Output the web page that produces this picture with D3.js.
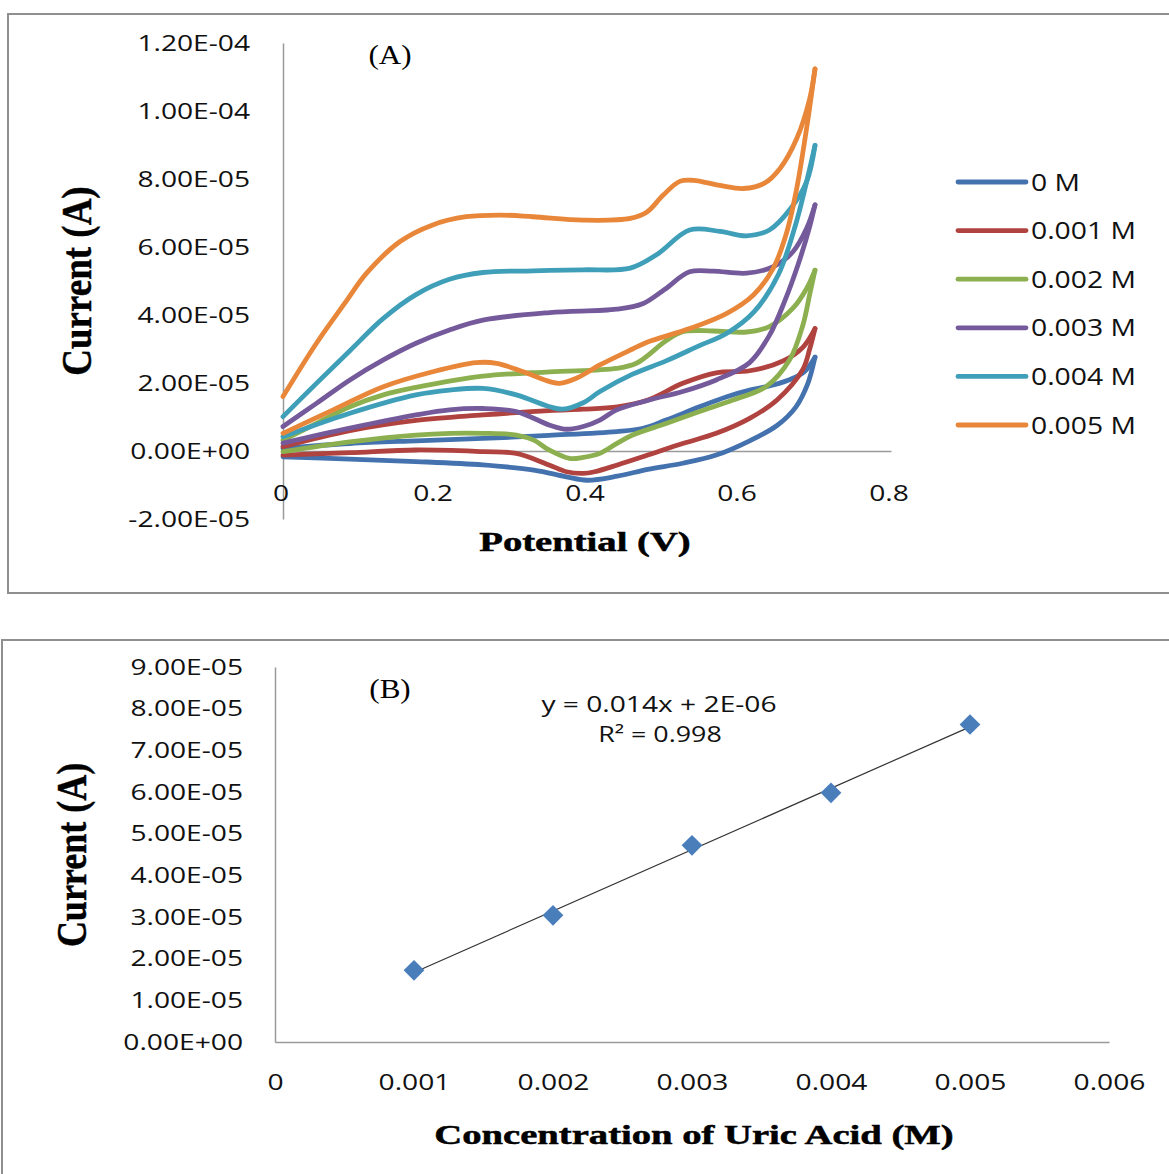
<!DOCTYPE html>
<html>
<head>
<meta charset="utf-8">
<script src="https://cdn.jsdelivr.net/npm/d3@7"></script>
<style>
  body { margin: 0; background: #fff; }
  svg { display: block; }
</style>
</head>
<body>
<div class="graph"></div>
<script>
// ---- panel A: cyclic voltammograms, [potential V, current µA], forward scan then reverse
const seriesNames = ["0 M", "0.001 M", "0.002 M", "0.003 M", "0.004 M", "0.005 M"]
const seriesColors = ["#4472ae", "#b0433f", "#8cb04f", "#745a9b", "#3f9fb8", "#e8873a"]

const cv0 = [[0, 0.8], [0.088, 2.2], [0.175, 3.0], [0.263, 3.7], [0.35, 4.6], [0.439, 5.7], [0.474, 6.7],
  [0.504, 9.1], [0.548, 13], [0.583, 15.9], [0.614, 17.9], [0.645, 19.4], [0.671, 21.4], [0.686, 23.3], [0.70, 27.6],
  [0.69, 19.5], [0.675, 13], [0.65, 7.5], [0.614, 3.0], [0.57, -1.2], [0.526, -3.6], [0.48, -5.4], [0.44, -7.4],
  [0.40, -8.6], [0.373, -7.6], [0.33, -5.6], [0.263, -4.1], [0.175, -3.1], [0.088, -2.4], [0, -1.7]]

const cv1 = [[0, 1.3], [0.088, 6.0], [0.175, 9.0], [0.263, 10.6], [0.35, 11.9], [0.395, 12.3], [0.44, 13.0],
  [0.48, 15.0], [0.526, 19.9], [0.57, 23.0], [0.614, 23.6], [0.658, 26.5], [0.684, 30.5], [0.70, 36],
  [0.693, 30], [0.684, 24], [0.65, 15], [0.614, 9.6], [0.57, 5.2], [0.526, 2.2], [0.48, -1.2], [0.44, -4.1],
  [0.41, -6.1], [0.395, -6.6], [0.373, -6.1], [0.35, -4.1], [0.307, -0.7], [0.263, -0.2], [0.175, 0.3],
  [0.088, -0.5], [0, -1.2]]

const cv2 = [[0, 3.2], [0.044, 8.1], [0.088, 13], [0.132, 16.5], [0.175, 18.7], [0.263, 22], [0.351, 23.3],
  [0.439, 24.3], [0.465, 25.8], [0.504, 32.4], [0.526, 35.1], [0.566, 35.3], [0.61, 35.0], [0.64, 36.6],
  [0.671, 42], [0.689, 47.8], [0.70, 53.2],
  [0.693, 46], [0.684, 37], [0.667, 27], [0.636, 19], [0.592, 15], [0.548, 11.6], [0.504, 8.1], [0.46, 4.7],
  [0.44, 2.3], [0.417, -0.7], [0.395, -1.9], [0.377, -2.2], [0.35, 0.3], [0.33, 3.2], [0.307, 4.7],
  [0.263, 5.2], [0.22, 5.2], [0.175, 4.7], [0.088, 2.7], [0, -0.2]]

const cv3 = [[0, 7.2], [0.044, 14], [0.088, 20.9], [0.132, 26.8], [0.175, 31.7], [0.219, 35.6], [0.263, 38.5],
  [0.351, 40.7], [0.439, 41.7], [0.474, 43.4], [0.502, 47.5], [0.535, 52.7], [0.566, 52.9], [0.61, 52.3],
  [0.645, 54.2], [0.671, 58.6], [0.689, 65.5], [0.70, 72.4],
  [0.693, 66], [0.678, 55], [0.66, 44], [0.64, 34], [0.614, 26], [0.57, 20.9], [0.526, 17.5], [0.482, 15],
  [0.439, 12.1], [0.417, 9.1], [0.395, 7.2], [0.373, 6.4], [0.351, 7.6], [0.307, 11.6], [0.263, 12.5],
  [0.219, 12.1], [0.175, 10.6], [0.088, 6.7], [0, 2.3]]

const cv4 = [[0, 10.1], [0.044, 19.9], [0.088, 29.5], [0.132, 39], [0.175, 46], [0.219, 50.5], [0.263, 52.5],
  [0.329, 53], [0.395, 53.3], [0.457, 53.8], [0.492, 57.8], [0.535, 65], [0.575, 64.6], [0.61, 63.3],
  [0.64, 65], [0.668, 71.3], [0.689, 79.2], [0.70, 89.9],
  [0.693, 83], [0.675, 67], [0.652, 52], [0.62, 41], [0.583, 34.5], [0.548, 31], [0.504, 26.5], [0.46, 22.6],
  [0.417, 17.5], [0.395, 14.2], [0.368, 12.3], [0.351, 13], [0.307, 16.5], [0.263, 18.4], [0.219, 17.9],
  [0.175, 16.5], [0.088, 11.1], [0, 4.2]]

const cv5 = [[0, 16], [0.044, 31.7], [0.083, 44], [0.11, 52.3], [0.154, 61.6], [0.197, 66.5], [0.241, 68.9],
  [0.285, 69.4], [0.329, 68.9], [0.395, 67.9], [0.457, 68.4], [0.479, 70.3], [0.50, 75.2], [0.522, 79.3],
  [0.54, 79.6], [0.575, 78.1], [0.606, 77.2], [0.633, 78.7], [0.654, 83.1], [0.676, 91.9], [0.693, 103.6], [0.70, 112.4],
  [0.689, 95], [0.676, 77.3], [0.663, 64.5], [0.645, 53.7], [0.619, 45.9], [0.584, 40.5], [0.535, 36],
  [0.479, 32], [0.46, 30], [0.417, 25.3], [0.386, 21.4], [0.364, 19.9], [0.351, 20.4], [0.316, 23.3],
  [0.281, 25.8], [0.254, 26], [0.197, 23.3], [0.132, 18.9], [0.066, 12.1], [0, 5.2]]

const cvData = [cv0, cv1, cv2, cv3, cv4, cv5]

const potentialTicks = [0, 0.2, 0.4, 0.6, 0.8]
const currentTicksA = [-2e-5, 0, 2e-5, 4e-5, 6e-5, 8e-5, 1e-4, 1.2e-4]

// ---- panel B: calibration
const concentrations = [0.001, 0.002, 0.003, 0.004, 0.005]
const peakCurrents = [1.72e-5, 3.04e-5, 4.72e-5, 5.98e-5, 7.62e-5]
const concTicks = [0, 0.001, 0.002, 0.003, 0.004, 0.005, 0.006]
const currentTicksB = [0, 1e-5, 2e-5, 3e-5, 4e-5, 5e-5, 6e-5, 7e-5, 8e-5, 9e-5]
const equationText = "y = 0.014x + 2E-06"
const r2Text = "R² = 0.998"


const svg = d3.select(".graph").append("svg")
    .attr("width", 1169)
    .attr("height", 1174)

const sansFont = "'Open Sans', sans-serif"
const serifFont = "'Liberation Serif', 'Times New Roman', serif"

// the original picture is stretched sideways, so texts get widened
function stretch(sel, k) {
    sel.each(function() {
        const w = this.getComputedTextLength()
        d3.select(this).attr("textLength", w * k).attr("lengthAdjust", "spacingAndGlyphs")
    })
}

function sci(d) {
    if (d === 0) return "0.00E+00"
    const parts = d.toExponential(2).split("e")
    const e = +parts[1]
    return parts[0] + "E" + (e < 0 ? "-" : "+") + String(Math.abs(e)).padStart(2, "0")
}

// frames
svg.append("rect")
    .attr("x", 8).attr("y", 14).attr("width", 1175).attr("height", 579)
    .attr("fill", "none").attr("stroke", "#8f8f8f").attr("stroke-width", 2)
svg.append("rect")
    .attr("x", 2).attr("y", 640).attr("width", 1180).attr("height", 560)
    .attr("fill", "none").attr("stroke", "#8f8f8f").attr("stroke-width", 2)

// ================= panel A =================
const xA = d3.scaleLinear().domain([0, 0.8]).range([283, 891])
const yA = d3.scaleLinear().domain([-2e-5, 1.2e-4]).range([519, 43])

const yAxisA = svg.append("g")
    .attr("transform", "translate(283,0)")
    .call(d3.axisLeft(yA).tickValues(currentTicksA).tickFormat(sci).tickSize(0).tickSizeOuter(0).tickPadding(33))
const xAxisA = svg.append("g")
    .attr("transform", `translate(0,${yA(0)})`)
    .call(d3.axisBottom(xA).tickValues(potentialTicks).tickFormat(d => d === 0 ? "0" : d.toFixed(1))
        .tickSize(0).tickSizeOuter(0).tickPadding(34))
xAxisA.selectAll(".tick").attr("transform", d => `translate(${xA(d) - 2},0)`)

const line = d3.line()
    .x(d => xA(d[0]))
    .y(d => yA(d[1] * 1e-6))
    .curve(d3.curveCatmullRom.alpha(0.5))

cvData.forEach((cv, i) => {
    // split each loop at the switching potential
    let turn = d3.maxIndex(cv, d => d[0])
    const branches = [cv.slice(0, turn + 1), cv.slice(turn)]
    svg.append("g").selectAll("path")
        .data(branches)
        .join("path")
        .attr("d", line)
        .attr("fill", "none")
        .attr("stroke", seriesColors[i])
        .attr("stroke-width", 4.8)
        .attr("stroke-linecap", "round")
        .attr("stroke-linejoin", "round")
})

// legend
const legend = svg.append("g")
    .selectAll("g")
    .data(seriesNames)
    .join("g")
    .attr("transform", (d, i) => `translate(958,${182 + i * 48.6})`)
legend.append("line")
    .attr("x1", 0).attr("x2", 68)
    .attr("stroke", (d, i) => seriesColors[i])
    .attr("stroke-width", 4.8)
    .attr("stroke-linecap", "round")
legend.append("text")
    .attr("x", 73).attr("y", 8.5)
    .style("font", `23px ${sansFont}`)
    .attr("fill", "#111")
    .text(d => d)
    .call(stretch, 1.23)

svg.append("text")
    .attr("x", 390).attr("y", 64)
    .attr("text-anchor", "middle")
    .style("font", `27px ${serifFont}`)
    .text("(A)")
    .call(stretch, 1.15)

svg.append("text")
    .attr("transform", "translate(91,281) rotate(-90) scale(1,1.15)")
    .attr("text-anchor", "middle")
    .style("font", `bold 37px ${serifFont}`)
    .attr("stroke", "#000").attr("stroke-width", 0.4)
    .text("Current (A)")

svg.append("text")
    .attr("x", 585).attr("y", 551)
    .attr("text-anchor", "middle")
    .style("font", `bold 28px ${serifFont}`)
    .attr("stroke", "#000").attr("stroke-width", 0.5)
    .text("Potential (V)")
    .call(stretch, 1.38)

// ================= panel B =================
const xB = d3.scaleLinear().domain([0, 0.006]).range([275, 1109])
const yB = d3.scaleLinear().domain([0, 9e-5]).range([1042, 667])

const yAxisB = svg.append("g")
    .attr("transform", "translate(275,0)")
    .call(d3.axisLeft(yB).tickValues(currentTicksB).tickFormat(sci).tickSize(0).tickSizeOuter(0).tickPadding(32))
const xAxisB = svg.append("g")
    .attr("transform", "translate(0,1042)")
    .call(d3.axisBottom(xB).tickValues(concTicks).tickFormat(d => d === 0 ? "0" : d.toFixed(3))
        .tickSize(0).tickSizeOuter(0).tickPadding(32))

for (const ax of [yAxisA, xAxisA, yAxisB, xAxisB]) {
    ax.select(".domain").attr("stroke", "#9a9a9a").attr("stroke-width", 1.5)
    ax.selectAll("text")
        .style("font", `22px ${sansFont}`)
        .attr("fill", "#111")
        .call(stretch, 1.28)
}

// least squares trendline over the data range
const mx = d3.mean(concentrations), my = d3.mean(peakCurrents)
const slope = d3.sum(concentrations, (c, i) => (c - mx) * (peakCurrents[i] - my)) /
              d3.sum(concentrations, c => (c - mx) * (c - mx))
const icpt = my - slope * mx
const xr = d3.extent(concentrations)
svg.append("line")
    .attr("x1", xB(xr[0])).attr("y1", yB(slope * xr[0] + icpt))
    .attr("x2", xB(xr[1])).attr("y2", yB(slope * xr[1] + icpt))
    .attr("stroke", "#333").attr("stroke-width", 1.2)

svg.append("g")
    .selectAll("path")
    .data(concentrations)
    .join("path")
    .attr("d", d3.symbol(d3.symbolSquare, 215))
    .attr("transform", (d, i) => `translate(${xB(d)},${yB(peakCurrents[i])}) rotate(45)`)
    .attr("fill", "#4a7ebb")

svg.append("text")
    .attr("x", 659).attr("y", 712)
    .attr("text-anchor", "middle")
    .style("font", `22px ${sansFont}`)
    .attr("fill", "#111")
    .text(equationText)
    .call(stretch, 1.28)
svg.append("text")
    .attr("x", 660).attr("y", 742)
    .attr("text-anchor", "middle")
    .style("font", `22px ${sansFont}`)
    .attr("fill", "#111")
    .text(r2Text)
    .call(stretch, 1.22)

svg.append("text")
    .attr("x", 390).attr("y", 698)
    .attr("text-anchor", "middle")
    .style("font", `27px ${serifFont}`)
    .text("(B)")
    .call(stretch, 1.15)

svg.append("text")
    .attr("transform", "translate(86,855) rotate(-90) scale(1,1.15)")
    .attr("text-anchor", "middle")
    .style("font", `bold 36px ${serifFont}`)
    .attr("stroke", "#000").attr("stroke-width", 0.4)
    .text("Current (A)")

svg.append("text")
    .attr("x", 694).attr("y", 1144)
    .attr("text-anchor", "middle")
    .style("font", `bold 28px ${serifFont}`)
    .attr("stroke", "#000").attr("stroke-width", 0.5)
    .text("Concentration of Uric Acid (M)")
    .call(stretch, 1.38)
</script>
</body>
</html>
